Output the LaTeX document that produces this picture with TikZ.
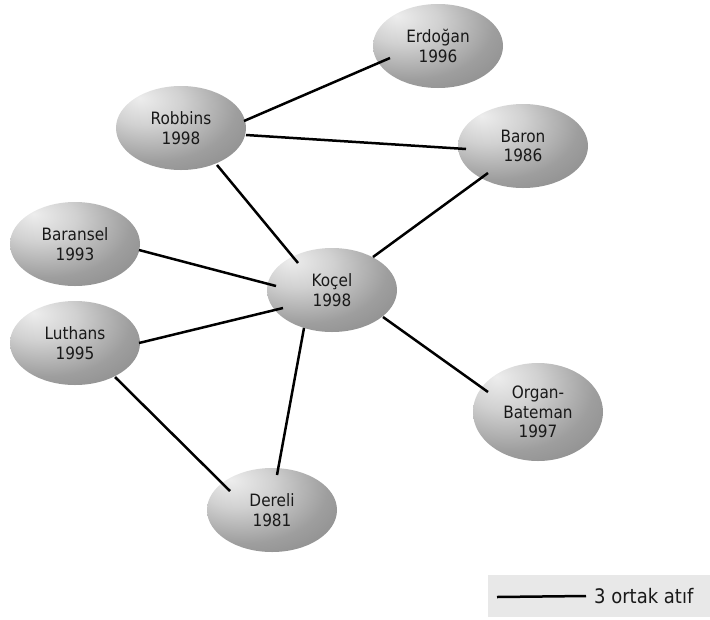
\documentclass[tikz,border=0pt]{standalone}
\usepackage{fontspec}
\setmainfont{DejaVu Sans Condensed}
\usetikzlibrary{shapes.geometric}
\pgfdeclareradialshading{elshade}{\pgfpoint{-16bp}{18bp}}{%
  color(0bp)=(white!93!black);
  color(14bp)=(white!82!black);
  color(32bp)=(white!62!black);
  color(50bp)=(white!52!black);
  color(70bp)=(white!43!black);
  color(100bp)=(white!40!black)}
\tikzset{
  author/.style={ellipse, shading=elshade, draw=none, minimum width=130pt,
    minimum height=84pt, inner sep=0pt, align=center,
    font=\fontsize{17}{19.5}\selectfont, text=black!90},
  link/.style={line width=2.5pt, black},
}
\begin{document}
\begin{tikzpicture}[x=1pt,y=-1pt]
\useasboundingbox (0,0) rectangle (710,619);
% nodes
\node[author] (r)  at (181,128) {Robbins\\1998};
\node[author] (e)  at (438,46)  {Erdoğan\\1996};
\node[author] (b)  at (523,146) {Baron\\1986};
\node[author] (bs) at (75,244)  {Baransel\\1993};
\node[author] (k)  at (332,290) {Koçel\\1998};
\node[author] (l)  at (75,343)  {Luthans\\1995};
\node[author, minimum height=98pt] (o) at (538,412) {Organ-\\Bateman\\1997};
\node[author] (d)  at (272,510) {Dereli\\1981};
% connectors
\draw[link] ([shift={(63,-7)}]r.center) -- ([shift={(-48,12)}]e.center);
\draw[link] ([shift={(65,7)}]r.center) -- ([shift={(-57,3)}]b.center);
\draw[link] ([shift={(36,37)}]r.center) -- ([shift={(-34,-27)}]k.center);
\draw[link] ([shift={(-35,27)}]b.center) -- ([shift={(41,-33)}]k.center);
\draw[link] ([shift={(64,6)}]bs.center) -- ([shift={(-56,-4)}]k.center);
\draw[link] ([shift={(64,0)}]l.center) -- ([shift={(-49,18)}]k.center);
\draw[link] ([shift={(-28,38)}]k.center) -- ([shift={(5,-35)}]d.center);
\draw[link] ([shift={(51,27)}]k.center) -- ([shift={(-50,-20)}]o.center);
\draw[link] ([shift={(40,34)}]l.center) -- ([shift={(-42,-19)}]d.center);
% legend
\node[fill=black!9, minimum width=222pt, minimum height=42pt, inner sep=0pt] (legbox) at (599,596) {};
\coordinate (ls) at (497,597);
\node[anchor=west, inner sep=0pt, font=\fontsize{20}{22}\selectfont, text=black!90] (lt) at (594,596) {3 ortak atıf};
\draw[line width=2.5pt] (ls) -- ([xshift=-8pt]lt.west);
\end{tikzpicture}
\end{document}
